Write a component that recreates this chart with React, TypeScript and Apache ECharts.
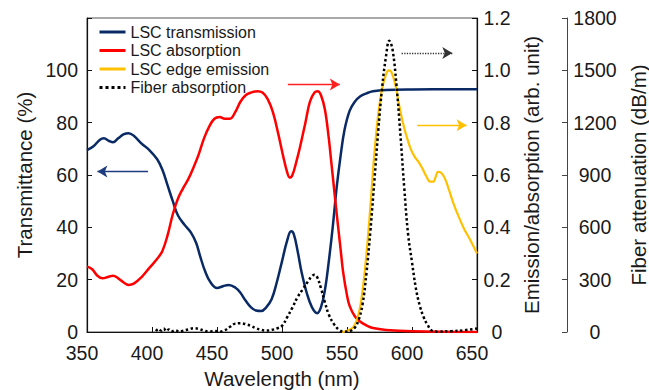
import React, { useEffect, useRef } from "react";
import * as echarts from "echarts";

// LSC transmission (%), left axis
const transWl = [350, 355, 360, 363, 367, 370, 374, 378, 382, 386, 392, 398, 404, 408, 412, 416, 420, 425, 430, 434, 437, 441, 445, 450, 455, 459, 464, 468, 472, 476, 480, 484, 488, 492, 496, 500, 504, 507, 509, 512, 515, 519, 523, 527, 530, 533, 536, 539, 542, 545, 548, 552, 556, 560, 565, 570, 580, 600, 650];
const transVal = [69.5, 71, 73.5, 74, 73, 72.5, 74, 75.5, 76, 75, 72, 69.5, 66, 62, 56, 50, 44.5, 41, 38, 34, 29, 23, 19, 16.8, 17.6, 18, 17, 15, 12, 9.5, 8.2, 8, 9.5, 12.5, 19, 27, 35, 38.5, 37.5, 31, 23, 15, 9.5, 7.2, 9.5, 16, 27, 40, 55, 67, 77, 84.5, 88, 90, 91.2, 92, 92.5, 92.7, 92.8];

// LSC absorption (%), left axis
const absWl = [350, 354, 358, 362, 366, 370, 374, 378, 382, 386, 392, 398, 404, 408, 412, 416, 420, 424, 428, 432, 436, 440, 444, 448, 452, 456, 460, 464, 468, 472, 476, 481, 485, 489, 493, 497, 501, 504, 506, 508, 511, 514, 518, 521.5, 525, 527.5, 530, 533, 536, 538, 540, 542, 545, 547, 550, 552, 556, 560, 565, 570, 580, 600, 650];
const absVal = [25, 24, 21.5, 20.5, 21, 21.5, 20.5, 19, 18, 18.5, 21, 24.5, 28, 31, 37, 45, 51, 55, 58.5, 63, 68, 74, 78.5, 81.5, 82.2, 81.5, 81.5, 84, 88, 90.5, 91.5, 92, 91.5, 89, 84, 76, 67, 61, 59, 60, 65, 71, 80, 88, 91.5, 92, 90.5, 85, 74, 64.5, 55, 45.5, 32, 23, 14, 10, 6, 4, 2.5, 1.5, 0.8, 0.3, 0];

// LSC edge emission (arb. unit), middle right axis
const emisWl = [546, 550, 555, 559, 562, 565, 568, 571, 574, 577, 580, 582, 584, 587, 590, 593, 596, 599, 602, 605, 608, 611, 614, 616.5, 618, 620, 622, 625, 628, 632, 636, 640, 645, 650];
const emisVal = [0, 0.005, 0.02, 0.07, 0.16, 0.3, 0.48, 0.68, 0.83, 0.93, 0.985, 1.0, 0.995, 0.95, 0.87, 0.8, 0.745, 0.7, 0.67, 0.65, 0.625, 0.595, 0.575, 0.575, 0.59, 0.612, 0.61, 0.59, 0.55, 0.49, 0.44, 0.395, 0.35, 0.3];

// Fiber absorption (dB/m), far right axis
const fiberWl = [403, 405, 407, 409, 411, 413, 415, 418, 421, 424, 428, 432, 436, 440, 444, 448, 452, 456, 460, 464, 468, 472, 476, 480, 484, 488, 492, 496, 500, 504, 508, 512, 516, 520, 523, 525, 527, 530, 533, 536, 540, 544, 548, 552, 556, 559, 562, 565, 568, 571, 574, 577, 580, 582.5, 585, 588, 591, 594, 597, 600, 603, 606, 609, 612, 616, 620, 630, 640, 650];
const fiberVal = [5, 18, 8, 20, 5, 15, 3, 10, 2, 8, 15, 22, 18, 8, 3, 6, 2, 10, 30, 48, 50, 45, 35, 22, 12, 8, 12, 20, 35, 85, 140, 200, 245, 290, 320, 328, 315, 250, 170, 100, 45, 12, 2, 5, 25, 70, 160, 340, 580, 860, 1150, 1400, 1580, 1670, 1620, 1420, 1140, 830, 560, 400, 250, 150, 85, 40, 5, 2, 5, 10, 20];

const seriesNames = ["LSC transmission", "LSC absorption", "LSC edge emission", "Fiber absorption"];
const xTicks = { min: 350, max: 650, interval: 50 };

const pair = (xs: number[], ys: number[]) => xs.map((x, i) => [x, ys[i]]);

const FONT = "'Liberation Sans', Arial, Helvetica, sans-serif";
const TXT = "#1a1a1a";

export default function App() {
  const ref = useRef<HTMLDivElement>(null);
  useEffect(() => {
    document.body.style.margin = "0";
    document.body.style.overflow = "hidden";
    if (!ref.current) return;
    const chart = echarts.init(ref.current, undefined, { renderer: "svg", width: 649, height: 390 });
    const axisLabelBase = { color: TXT, fontSize: 19.5, fontFamily: FONT };
    const nameBase = { color: TXT, fontSize: 20.5, fontFamily: FONT };
    const arrow = (x1: number, y1: number, x2: number, y2: number, color: string, type: any) => ({
      silent: true,
      symbol: ["none", "arrow"],
      symbolSize: [9, 10],
      label: { show: false },
      lineStyle: { color, width: 1.3, type },
      data: [[{ coord: [x1, y1] }, { coord: [x2, y2] }]],
    });
    chart.setOption({
      animation: false,
      textStyle: { fontFamily: FONT },
      grid: {
        left: 87, right: 172, top: 18, bottom: 58,
        containLabel: false, outerBoundsMode: "none",
        show: true, borderColor: "#555", borderWidth: 1, backgroundColor: "transparent",
      },
      legend: {
        orient: "vertical", left: 98, top: 24, padding: 0, itemGap: 2.5,
        itemWidth: 26, itemHeight: 14,
        itemStyle: { opacity: 0 },
        lineStyle: { width: 3 },
        textStyle: { color: TXT, fontSize: 16, fontFamily: FONT },
        data: seriesNames,
      },
      xAxis: {
        type: "value", ...xTicks,
        name: "Wavelength (nm)", nameLocation: "middle", nameGap: 35, nameTextStyle: nameBase,
        axisLine: { lineStyle: { color: "#111", width: 1.2 } },
        axisTick: { inside: true, length: 5, lineStyle: { color: "#111" } },
        axisLabel: { ...axisLabelBase, margin: 11, padding: [0, 10, 0, 0] },
        splitLine: { show: false },
      },
      yAxis: [
        {
          type: "value", min: 0, max: 120, interval: 20, position: "left",
          name: "Transmittance (%)", nameLocation: "middle", nameRotate: 90, nameGap: 49, nameTextStyle: nameBase,
          axisLine: { show: true, lineStyle: { color: "#111", width: 1.2 } },
          axisTick: { show: true, inside: true, length: 5, lineStyle: { color: "#111" } },
          axisLabel: { ...axisLabelBase, margin: 9, formatter: (v: number) => (v >= 120 ? "" : String(v)) },
          splitLine: { show: false },
        },
        {
          type: "value", min: 0, max: 1.2, interval: 0.2, position: "right",
          name: "Emission/absorption (arb. unit)", nameLocation: "middle", nameRotate: 90, nameGap: 41, nameTextStyle: nameBase,
          axisLine: { show: true, lineStyle: { color: "#111", width: 1.2 } },
          axisTick: { show: true, inside: true, length: 5, lineStyle: { color: "#111" } },
          axisLabel: { ...axisLabelBase, margin: 20, align: "center", formatter: (v: number) => (v === 0 ? "0" : v.toFixed(1)) },
          splitLine: { show: false },
        },
        {
          type: "value", min: 0, max: 1800, interval: 300, position: "right", offset: 90,
          name: "Fiber attenuation (dB/m)", nameLocation: "middle", nameRotate: 90, nameGap: 61, nameTextStyle: nameBase,
          axisLine: { show: true, lineStyle: { color: "#444", width: 1 } },
          axisTick: { show: true, inside: true, length: 5, lineStyle: { color: "#444" } },
          axisLabel: { ...axisLabelBase, margin: 28, align: "center", formatter: (v: number) => String(v) },
          splitLine: { show: false },
        },
      ],
      series: [
        {
          name: seriesNames[0], type: "line", yAxisIndex: 0, smooth: 0.4, showSymbol: false, symbol: "none",
          data: pair(transWl, transVal), lineStyle: { color: "#0a2a66", width: 2.5 }, itemStyle: { color: "#0a2a66" },
          markLine: arrow(397, 61.3, 358, 61.3, "#1e3d80", "solid"),
        },
        {
          name: seriesNames[1], type: "line", yAxisIndex: 0, smooth: 0.4, showSymbol: false, symbol: "none",
          data: pair(absWl, absVal), lineStyle: { color: "#ff0000", width: 2.5 }, itemStyle: { color: "#ff0000" },
          markLine: arrow(504.5, 94.6, 544.5, 94.6, "#ff2020", "solid"),
        },
        {
          name: seriesNames[2], type: "line", yAxisIndex: 1, smooth: 0.4, showSymbol: false, symbol: "none",
          data: pair(emisWl, emisVal), lineStyle: { color: "#ffc000", width: 2.2 }, itemStyle: { color: "#ffc000" },
          markLine: arrow(604, 0.79, 642, 0.79, "#ffc000", "solid"),
        },
        {
          name: seriesNames[3], type: "line", yAxisIndex: 2, smooth: 0.4, showSymbol: false, symbol: "none",
          data: pair(fiberWl, fiberVal), lineStyle: { color: "#000", width: 2.5, type: "dotted" }, itemStyle: { color: "#000" },
          markLine: arrow(592, 1599, 631, 1599, "#333", "dotted"),
        },
      ],
    });
    return () => chart.dispose();
  }, []);
  return <div ref={ref} style={{ width: 649, height: 390, background: "#fff" }} />;
}
